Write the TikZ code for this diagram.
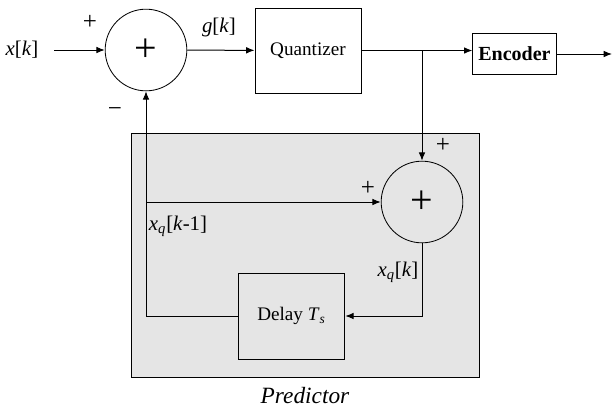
\documentclass[tikz,border=0pt]{standalone}
\usepackage{fontspec}
\setmainfont{Liberation Serif}
\usetikzlibrary{arrows.meta, positioning}

\begin{document}
\begin{tikzpicture}[x=0.6pt, y=-0.6pt,
          blk/.style={draw, line width=0.6pt, inner sep=0pt,
              font=\fontsize{11.5}{13}\selectfont},
          sum/.style={draw, circle, line width=0.5pt, inner sep=0pt,
              minimum size=49pt, font=\fontsize{24}{24}\selectfont},
          sgn/.style={font=\fontsize{15}{15}\selectfont, inner sep=0pt},
          lbl/.style={font=\fontsize{12.5}{14}\selectfont, inner sep=1pt},
          arr/.style={-{Latex[length=5pt, width=4pt]}, line width=0.6pt}
        ]
        \useasboundingbox (0,0) rectangle (613,409);
        % predictor area
        \node[draw, line width=0.6pt, fill=black!10, minimum width=208.8pt,
          minimum height=146.4pt] (pred) at (305,255) {};
        \node[font=\fontsize{14}{16}\selectfont\itshape] (predlbl) at (305,396) {Predictor};
        % blocks
        \node[sum] (s1) at (146,50) {+};
        \node[blk, minimum width=63.6pt, minimum height=51pt] (quant) at (308,50.5) {Quantizer};
        \node[blk, minimum width=50pt, minimum height=25pt,
          font=\fontsize{12}{13}\selectfont\bfseries] (enc) at (514.5,54) {Encoder};
        \node[sum] (s2) at (422,202) {+};
        \node[blk, minimum width=64pt, minimum height=51.6pt] (delay) at (291.5,316) {Delay \textit{T}\textsubscript{\textit{s}}};
        % labels
        \node[lbl] (xk) at (22,50) {\textit{x}[\textit{k}]};
        \node[lbl] (gk) at (219,27) {\textit{g}[\textit{k}]};
        \node[lbl] (xqk1) at (178,226) {\textit{x}\textsubscript{\textit{q}}[\textit{k}-1]};
        \node[lbl] (xqk) at (398,272) {\textit{x}\textsubscript{\textit{q}}[\textit{k}]};
        \node[sgn] (p1) at (90,22) {+};
        \node[sgn] (m1) at (115,112) {\textminus};
        \node[sgn] (p2) at (443,145) {+};
        \node[sgn] (p3) at (368,188) {+};
        % connectors
        \coordinate (br) at (s2 |- quant.east);
        \coordinate (tap) at (s1 |- s2);
        \coordinate (out) at (612,53);
        \draw[arr] (xk.east) ++(14,0) -- (s1.west);
        \draw[arr] (s1) -- (quant);
        \draw[arr] (quant.east) -- (quant.east -| enc.west);
        \draw[arr] (enc.east) -- (enc.east -| out);
        \draw[arr] (br) -- (s2.north);
        \draw[arr] (s2.south) |- (delay.east);
        \draw[arr] (delay.west) -| (s1.south);
        \draw[arr] (tap) -- (s2.west);
      \end{tikzpicture}
\end{document}
